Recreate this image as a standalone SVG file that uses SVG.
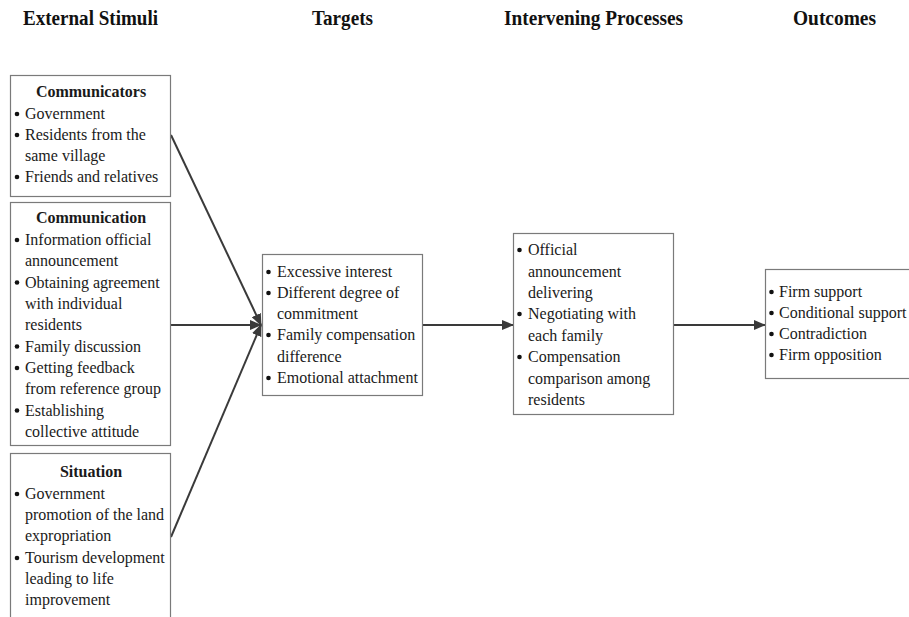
<svg xmlns="http://www.w3.org/2000/svg" width="909" height="617" viewBox="0 0 909 617">
<defs>
<style>
.box{fill:#fff;stroke:#7a7a7a;stroke-width:1.2}
.hd{font-family:"Liberation Serif","Times New Roman",serif;font-weight:bold;font-size:20px;fill:#111}
.t{font-family:"Liberation Serif","Times New Roman",serif;font-size:16px;fill:#1a1a1a}
.tb{font-family:"Liberation Serif","Times New Roman",serif;font-size:16px;font-weight:bold;fill:#1a1a1a;text-anchor:middle}
.b{fill:#111}
.c{stroke:#3a3a3a;stroke-width:2;fill:none}
</style>
<marker id="ah" markerUnits="userSpaceOnUse" markerWidth="12" markerHeight="10" refX="11" refY="5" orient="auto">
<path d="M0,0 L12,5 L0,10 z" fill="#3a3a3a"/>
</marker>
</defs>
<rect width="909" height="617" fill="#fff"/>
<g id="headers">
<text class="hd" x="23" y="25" textLength="135" lengthAdjust="spacingAndGlyphs">External Stimuli</text>
<text class="hd" x="312" y="25" textLength="61" lengthAdjust="spacingAndGlyphs">Targets</text>
<text class="hd" x="504" y="25" textLength="179" lengthAdjust="spacingAndGlyphs">Intervening Processes</text>
<text class="hd" x="793" y="25" textLength="83" lengthAdjust="spacingAndGlyphs">Outcomes</text>
</g>
<g id="connectors">
<line class="c" x1="171" y1="135" x2="261" y2="325" marker-end="url(#ah)"/>
<line class="c" x1="171" y1="325" x2="261" y2="325" marker-end="url(#ah)"/>
<line class="c" x1="171" y1="537" x2="261" y2="325" marker-end="url(#ah)"/>
<line class="c" x1="422" y1="325" x2="513" y2="325" marker-end="url(#ah)"/>
<line class="c" x1="674" y1="325" x2="765" y2="325" marker-end="url(#ah)"/>
</g>
<g id="communicators">
<rect class="box" x="10.5" y="75.5" width="160" height="121"/>
<text class="tb" x="91" y="97">Communicators</text>
<circle class="b" cx="17" cy="114" r="2.3"/>
<text class="t" x="25" y="119">Government</text>
<circle class="b" cx="17" cy="135" r="2.3"/>
<text class="t" x="25" y="140">Residents from the</text>
<text class="t" x="25" y="161">same village</text>
<circle class="b" cx="17" cy="177" r="2.3"/>
<text class="t" x="25" y="182">Friends and relatives</text>
</g>
<g id="communication">
<rect class="box" x="10.5" y="202.5" width="160" height="243"/>
<text class="tb" x="91" y="223">Communication</text>
<circle class="b" cx="17" cy="240" r="2.3"/>
<text class="t" x="25" y="245">Information official</text>
<text class="t" x="25" y="266">announcement</text>
<circle class="b" cx="17" cy="282.5" r="2.3"/>
<text class="t" x="25" y="287.5">Obtaining agreement</text>
<text class="t" x="25" y="309">with individual</text>
<text class="t" x="25" y="330">residents</text>
<circle class="b" cx="17" cy="346.5" r="2.3"/>
<text class="t" x="25" y="351.5">Family discussion</text>
<circle class="b" cx="17" cy="368" r="2.3"/>
<text class="t" x="25" y="373">Getting feedback</text>
<text class="t" x="25" y="394">from reference group</text>
<circle class="b" cx="17" cy="410.5" r="2.3"/>
<text class="t" x="25" y="415.5">Establishing</text>
<text class="t" x="25" y="437">collective attitude</text>
</g>
<g id="situation">
<rect class="box" x="10.5" y="453.5" width="160" height="170"/>
<text class="tb" x="91" y="477">Situation</text>
<circle class="b" cx="17" cy="494" r="2.3"/>
<text class="t" x="25" y="499">Government</text>
<text class="t" x="25" y="520">promotion of the land</text>
<text class="t" x="25" y="541">expropriation</text>
<circle class="b" cx="17" cy="558" r="2.3"/>
<text class="t" x="25" y="563">Tourism development</text>
<text class="t" x="25" y="584">leading to life</text>
<text class="t" x="25" y="605">improvement</text>
</g>
<g id="targets">
<rect class="box" x="262.5" y="254.5" width="160" height="141"/>
<circle class="b" cx="268.5" cy="272" r="2.3"/>
<text class="t" x="277" y="277">Excessive interest</text>
<circle class="b" cx="268.5" cy="293" r="2.3"/>
<text class="t" x="277" y="298">Different degree of</text>
<text class="t" x="277" y="319">commitment</text>
<circle class="b" cx="268.5" cy="335" r="2.3"/>
<text class="t" x="277" y="340">Family compensation</text>
<text class="t" x="277" y="361.5">difference</text>
<circle class="b" cx="268.5" cy="378" r="2.3"/>
<text class="t" x="277" y="383">Emotional attachment</text>
</g>
<g id="intervening">
<rect class="box" x="513.5" y="233.5" width="160" height="181"/>
<circle class="b" cx="519.5" cy="250" r="2.3"/>
<text class="t" x="528" y="255">Official</text>
<text class="t" x="528" y="276.5">announcement</text>
<text class="t" x="528" y="298">delivering</text>
<circle class="b" cx="519.5" cy="314" r="2.3"/>
<text class="t" x="528" y="319">Negotiating with</text>
<text class="t" x="528" y="340.5">each family</text>
<circle class="b" cx="519.5" cy="357" r="2.3"/>
<text class="t" x="528" y="362">Compensation</text>
<text class="t" x="528" y="383.5">comparison among</text>
<text class="t" x="528" y="405">residents</text>
</g>
<g id="outcomes">
<rect class="box" x="765.5" y="269.5" width="160" height="109"/>
<circle class="b" cx="771.5" cy="292" r="2.3"/>
<text class="t" x="779" y="297">Firm support</text>
<circle class="b" cx="771.5" cy="313" r="2.3"/>
<text class="t" x="779" y="318">Conditional support</text>
<circle class="b" cx="771.5" cy="334" r="2.3"/>
<text class="t" x="779" y="339">Contradiction</text>
<circle class="b" cx="771.5" cy="355" r="2.3"/>
<text class="t" x="779" y="360">Firm opposition</text>
</g>
</svg>
